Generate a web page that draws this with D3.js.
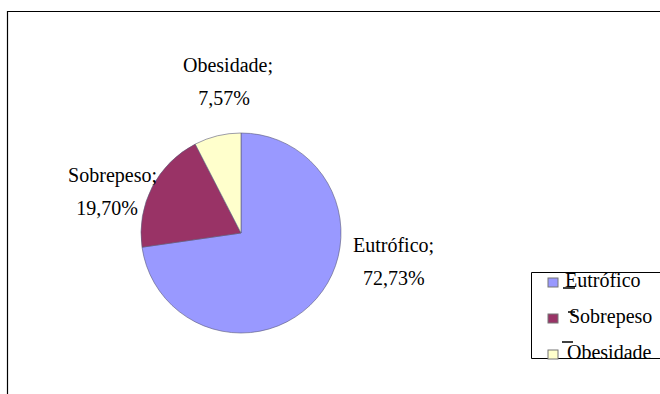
<!DOCTYPE html>
<html>
<head>
<meta charset="utf-8">
<script src="https://cdn.jsdelivr.net/npm/d3@7"></script>
<style>
  body { margin: 0; background: #fff; }
  text { font-family: "Liberation Serif", "Times New Roman", serif; fill: #000; }
</style>
</head>
<body>
<script>
// Chart data
const categories = ["Eutrófico", "Sobrepeso", "Obesidade"];
const percents = [72.73, 19.70, 7.57];
const pctLabels = ["72,73%", "19,70%", "7,57%"];
const colors = ["#9999ff", "#993366", "#ffffcc"];

const w = 660, h = 394;
const cx = 241, cy = 233, r = 100;

const svg = d3.select("body").append("svg")
  .attr("width", w)
  .attr("height", h);

// Outer frame (only top and left edges visible)
svg.append("path")
  .attr("d", `M7.5,${h} V11.5 H${w}`)
  .attr("fill", "none")
  .attr("stroke", "#000")
  .attr("stroke-width", 1.2);

// Pie
const pie = d3.pie().sort(null).value(d => d)(percents);
const arc = d3.arc().innerRadius(0).outerRadius(r);

svg.append("g")
  .attr("transform", `translate(${cx},${cy})`)
  .selectAll("path")
  .data(pie)
  .join("path")
  .attr("d", arc)
  .attr("fill", (d, i) => colors[i])
  .attr("stroke", "#5a5a7a")
  .attr("stroke-width", 0.6);

// Slice labels (two lines: name; and percent)
const labelPos = [
  { x: 353, y: 252, x2: 363, anchor: "start" },
  { x: 157, y: 182, x2: 138, anchor: "end" },
  { x: 228, y: 72, x2: 224, anchor: "middle" }
];
const labels = svg.append("g")
  .selectAll("text")
  .data(pie)
  .join("text")
  .attr("text-anchor", (d, i) => labelPos[i].anchor)
  .attr("font-size", 20);
labels.append("tspan")
  .attr("x", (d, i) => labelPos[i].x)
  .attr("y", (d, i) => labelPos[i].y)
  .text((d, i) => categories[i] + ";");
labels.append("tspan")
  .attr("x", (d, i) => labelPos[i].x2)
  .attr("y", (d, i) => labelPos[i].y + 33)
  .text((d, i) => pctLabels[i]);

// Legend
const legend = svg.append("g");
legend.append("path")
  .attr("d", `M${w},272.5 H531.5 V358.5 H${w}`)
  .attr("fill", "none")
  .attr("stroke", "#000")
  .attr("stroke-width", 1);

const ly = d3.scalePoint().domain(categories).range([283, 355]);
const items = legend.selectAll("g.item")
  .data(categories)
  .join("g")
  .attr("class", "item");
items.append("rect")
  .attr("x", 548)
  .attr("y", d => ly(d) - 5)
  .attr("width", 10)
  .attr("height", 9)
  .attr("fill", (d, i) => colors[i])
  .attr("stroke", "#777")
  .attr("stroke-width", 1);
items.append("line")
  .attr("x1", (d, i) => [563, 568, 562][i])
  .attr("x2", (d, i) => [575, 575, 573][i])
  .attr("y1", (d, i) => ly(d) + [5, -7, -13][i])
  .attr("y2", (d, i) => ly(d) + [5, -7, -13][i])
  .attr("stroke", "#000")
  .attr("stroke-width", 1.5);
items.append("text")
  .attr("x", (d, i) => [565, 569, 567][i])
  .attr("y", d => ly(d) + 4)
  .attr("font-size", 20)
  .text(d => d);
</script>
</body>
</html>
